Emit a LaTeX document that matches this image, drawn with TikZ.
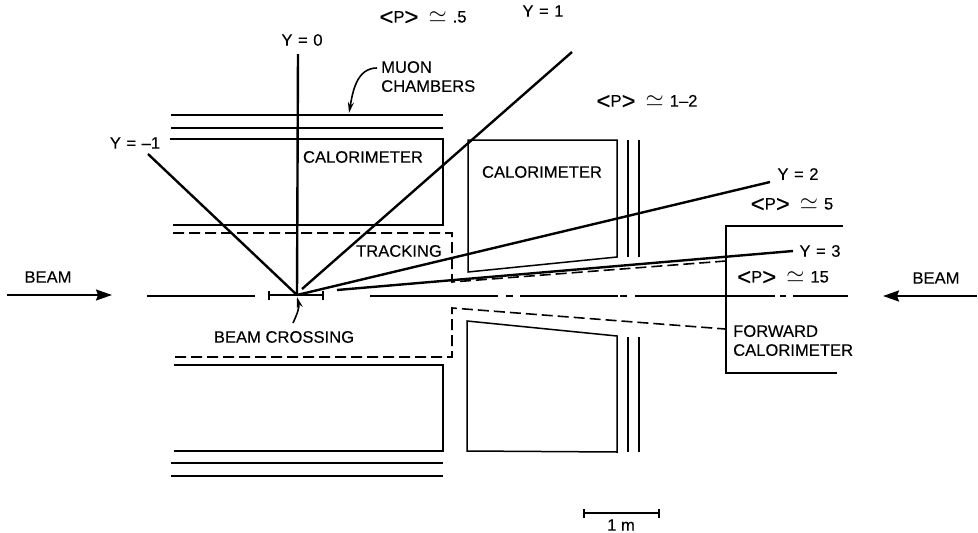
\documentclass[tikz,border=0pt]{standalone}
\usepackage{fontspec}
\setmainfont[FakeBold=0.2]{Liberation Sans}
\usetikzlibrary{arrows.meta}
\newcommand{\bigsign}[1]{\lower2.5pt\hbox{\fontsize{24}{24}\selectfont #1}}
\newcommand{\meanp}{\bigsign{<}P\bigsign{>}\kern10pt\scalebox{1.35}{$\simeq$}\kern6pt}
\tikzset{
    label/.style={inner sep=0pt,font=\fontsize{16.6}{19}\selectfont\addfontfeature{FakeBold=0.2}},
    wall/.style={line width=1.5pt},
    ray/.style={line width=2.4pt},
    track/.style={line width=1.6pt,dash pattern=on 11pt off 5pt},
    beamline/.style={line width=1.3pt},
    beamarrow/.style={line width=1.8pt,-{Stealth[length=16pt,width=11pt,inset=2pt]}},
    pointer/.style={line width=1.6pt,-{Stealth[length=11pt,width=6pt]}},
    bar/.style={line width=1.6pt,{Bar[width=9pt]}-{Bar[width=9pt]}}
}
\begin{document}
\begin{tikzpicture}[x=1pt,y=-1pt]
    \useasboundingbox (0,0) rectangle (978,533);
    % interaction point and ray ends
    \coordinate (cross) at (297,295);
    \node[label] (y0) at (302,40) {Y\,\,=\,\,0};
    \node[label] (ym1) at (135,143) {Y\,\,=\,\,--1};
    \node[label] (y1) at (543,11) {Y\,\,=\,\,1};
    \node[label] (y2) at (798,174) {Y\,\,=\,\,2};
    \node[label] (y3) at (820,251) {Y\,\,=\,\,3};
    \draw[ray] (cross) -- (298,54);
    \draw[ray] (cross) -- (148,154);
    \draw[ray] (302,289) -- (572,52);
    \draw[ray] (cross) -- (770,182);
    \draw[ray] (337,290) -- (793,251);
    % momentum labels
    \node[label] (p05) at (423,18) {\meanp.5};
    \node[label] (p12) at (647,102) {\meanp 1--2};
    \node[label] (p5) at (792,205) {\meanp 5};
    \node[label] (p15) at (783,278) {\meanp 15};
    % muon chambers, barrel
    \foreach \y in {115,128,463,476}
        \draw[wall] (171,\y) -- (443,\y);
    % calorimeters
    \draw[wall] (170,139) -- (443,139) -- (443,225) -- (173,225);
    \draw[wall] (174,365) -- (443,365) -- (443,451) -- (174,451);
    \draw[wall] (468,140) -- (617,140) -- (617,257) -- (468,272) -- cycle;
    \draw[wall] (467,321) -- (617,336) -- (617,452) -- (467,451) -- cycle;
    \draw[wall] (843,226) -- (726,226) -- (726,373) -- (837,373);
    % muon chambers, end cap
    \foreach \x in {628,639} {
        \draw[wall] (\x,140) -- (\x,257);
        \draw[wall] (\x,337) -- (\x,452);
    }
    % tracking volume
    \draw[track] (173,233) -- (452,233) -- (452,282) -- (726,261);
    \draw[track] (175,357) -- (452,357) -- (452,308) -- (725,329);
    % beam line
    \foreach \a/\b in {147/255,370/498,506/513,520/618,620/627,635/775,780/786,793/848}
        \draw[beamline] (\a,296) -- (\b,296);
    \draw[bar] (268,295) -- (324,295);
    \node[label] (beamleft) at (48,277) {BEAM};
    \node[label] (beamright) at (936,278) {BEAM};
    \coordinate (beamleftstart) at (7,295);
    \coordinate (beamlefttip) at (112,295);
    \coordinate (beamrightstart) at (977,296);
    \coordinate (beamrighttip) at (883,296);
    \draw[beamarrow] (beamleftstart) -- (beamlefttip);
    \draw[beamarrow] (beamrightstart) -- (beamrighttip);
    % detector labels
    \node[label] (calbarrel) at (363,157) {CALORIMETER};
    \node[label] (calend) at (542,172) {CALORIMETER};
    \node[label] (tracking) at (399,251) {TRACKING};
    \node[label,align=left,anchor=north west] (muon) at (381,61) {MUON\\CHAMBERS};
    \node[label,align=left,anchor=north west] (forward) at (733,325) {FORWARD\\CALORIMETER};
    \node[label] (crossing) at (284,337) {BEAM CROSSING};
    \coordinate (muontip) at (349,113);
    \coordinate (crosstip) at (297,297);
    \draw[pointer] (377,68) to[out=180,in=80] (muontip);
    \draw[pointer] (293,323) to[out=65,in=-75] (crosstip);
    % scale
    \coordinate (scaleleft) at (583,513);
    \coordinate (scaleright) at (660,513);
    \draw[bar] (scaleleft) -- (scaleright);
    \node[label] (scale) at (621,525) {1 m};
\end{tikzpicture}
\end{document}
